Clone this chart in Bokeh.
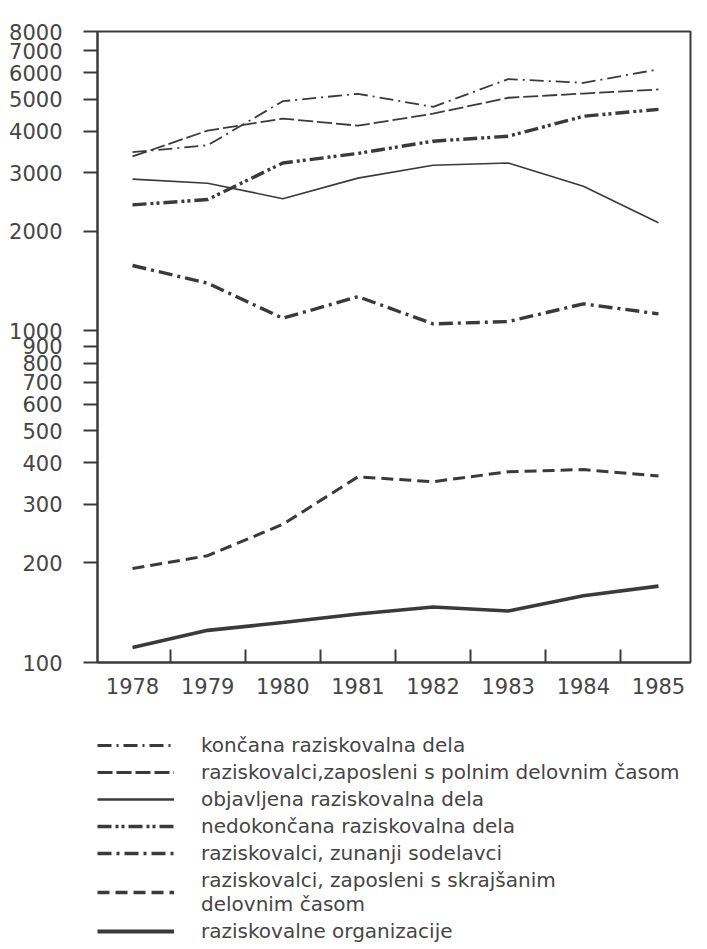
from bokeh.plotting import figure
from bokeh.layouts import column
from bokeh.models import FixedTicker, Range1d, Legend, LegendItem
from bokeh.embed import file_html
from bokeh.resources import INLINE

years = [1978, 1979, 1980, 1981, 1982, 1983, 1984, 1985]
year_tick_marks = [1978.5, 1979.5, 1980.5, 1981.5, 1982.5, 1983.5, 1984.5]

koncana = [3460, 3630, 4930, 5190, 4740, 5750, 5600, 6150]
polni = [3360, 4020, 4370, 4160, 4520, 5050, 5200, 5350]
objavljena = [2870, 2790, 2505, 2890, 3160, 3210, 2730, 2120]
nedokoncana = [2400, 2490, 3210, 3430, 3735, 3865, 4440, 4660]
zunanji = [1575, 1393, 1092, 1269, 1050, 1067, 1207, 1126]
skrajsani = [192, 210, 261, 363, 351, 376, 382, 365]
organizacije = [111, 125, 132, 140, 147, 143, 159, 170]

series_labels = [
    "končana raziskovalna dela",
    "raziskovalci,zaposleni s polnim delovnim časom",
    "objavljena raziskovalna dela",
    "nedokončana raziskovalna dela",
    "raziskovalci, zunanji sodelavci",
    "raziskovalci, zaposleni s skrajšanim\ndelovnim časom",
    "raziskovalne organizacije",
]

y_ticks = [100, 200, 300, 400, 500, 600, 700, 800, 900,
           1000, 2000, 3000, 4000, 5000, 6000, 7000, 8000]
y_tick_labels = ["100", "200", "300", "400", "500", "600", "700", "800", "900",
                 "1000", "2000", "3000", "4000", "5000", "6000", "7000", "8000"]

INK = "#3a3a3a"
TXT = "#454545"
FONT = "DejaVu Sans"

p = figure(width=700, height=706, y_axis_type="log",
           x_range=Range1d(1977.534, 1985.426), y_range=Range1d(100, 8000),
           output_backend="svg", toolbar_location=None,
           min_border_left=97, min_border_right=10, min_border_top=31,
           min_border_bottom=44)
p.grid.visible = False
p.outline_line_color = INK
p.outline_line_width = 2
p.background_fill_color = "white"

# y axis
ya = p.yaxis[0]
ya.ticker = FixedTicker(ticks=y_ticks, minor_ticks=[])
ya.major_label_overrides = dict(zip(y_ticks, y_tick_labels))
ya.major_tick_in = 0
ya.major_tick_out = 14
ya.major_tick_line_width = 2
ya.major_tick_line_color = INK
ya.minor_tick_line_color = None
ya.axis_line_width = 2
ya.axis_line_color = INK
ya.major_label_standoff = 21
ya.major_label_text_font = FONT
ya.major_label_text_font_size = "21px"
ya.major_label_text_color = TXT

# x axis
xa = p.xaxis[0]
xa.ticker = FixedTicker(ticks=years, minor_ticks=year_tick_marks)
xa.major_tick_line_color = None
xa.major_tick_in = 0
xa.major_tick_out = 0
xa.minor_tick_in = 13
xa.minor_tick_out = 0
xa.minor_tick_line_width = 2
xa.minor_tick_line_color = INK
xa.axis_line_width = 2
xa.axis_line_color = INK
xa.major_label_standoff = 15
xa.major_label_text_font = FONT
xa.major_label_text_font_size = "21px"
xa.major_label_text_color = TXT

# (values, plot width, legend sample width, dash)
styles = [
    (koncana, 1.8, 2.8, "14 5 2 5"),
    (polni, 1.8, 2.8, "15 4"),
    (objavljena, 1.6, 2.4, "solid"),
    (nedokoncana, 3.4, 3.6, "14 4 3 3 3 4"),
    (zunanji, 3.4, 3.6, "14 5 3 5"),
    (skrajsani, 3.0, 3.4, "12 6"),
    (organizacije, 3.6, 3.8, "solid"),
]

# legend panel: a second figure whose view shows none of the data
pl = figure(width=700, height=241, x_range=Range1d(0, 1), y_range=Range1d(0, 1),
            output_backend="svg", toolbar_location=None,
            x_axis_location=None, y_axis_location=None,
            min_border_left=95, min_border_right=0, min_border_top=27,
            min_border_bottom=0)
pl.grid.visible = False
pl.outline_line_color = None

items = []
for (vals, w, lw, dash), lab in zip(styles, series_labels):
    p.line(years, vals, line_color=INK, line_width=w, line_dash=dash)
    r = pl.line(years, vals, line_color=INK, line_width=lw, line_dash=dash)
    items.append(LegendItem(label=lab, renderers=[r]))

legend = Legend(items=items, location="top_left", orientation="vertical",
                glyph_width=77, glyph_height=22, label_height=22, spacing=3,
                label_standoff=27, padding=0, margin=0,
                background_fill_alpha=0, border_line_alpha=0,
                label_text_font=FONT, label_text_font_size="20px",
                label_text_color=TXT)
pl.add_layout(legend)

layout = column(p, pl, spacing=0)
open("out.html", "w").write(file_html(layout, INLINE))
